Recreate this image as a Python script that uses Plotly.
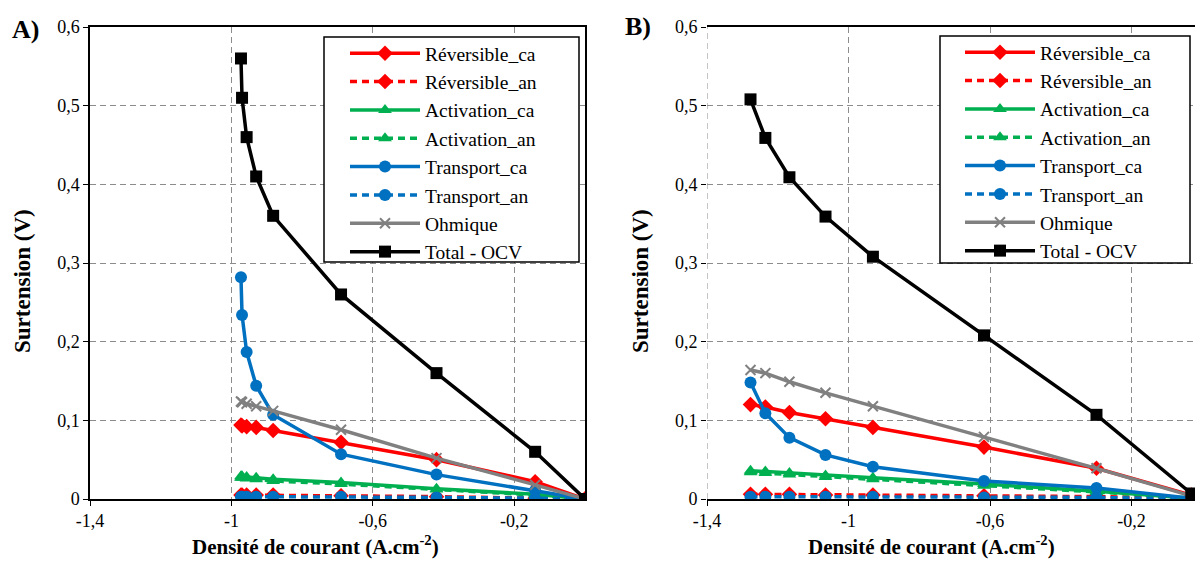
import plotly.graph_objects as go

# --- data (panel A and panel B) ---
names = ["Réversible_ca", "Réversible_an", "Activation_ca", "Activation_an",
         "Transport_ca", "Transport_an", "Ohmique", "Total - OCV"]

j_A = [-0.973, -0.970, -0.957, -0.930, -0.882, -0.690, -0.420, -0.141, 0.0]
rev_ca_A = [0.094, 0.093, 0.092, 0.091, 0.087, 0.072, 0.050, 0.022, 0.0]
rev_an_A = [0.005, 0.005, 0.005, 0.005, 0.005, 0.004, 0.003, 0.001, 0.0]
act_ca_A = [0.029, 0.029, 0.028, 0.027, 0.025, 0.021, 0.013, 0.006, 0.0]
act_an_A = [0.027, 0.027, 0.026, 0.025, 0.023, 0.019, 0.012, 0.005, 0.0]
tr_ca_A = [0.282, 0.234, 0.187, 0.144, 0.107, 0.057, 0.031, 0.011, 0.0]
tr_an_A = [0.003, 0.003, 0.003, 0.003, 0.003, 0.003, 0.002, 0.001, 0.0]
ohm_A = [0.124, 0.123, 0.121, 0.118, 0.112, 0.088, 0.052, 0.018, 0.0]
tot_A = [0.56, 0.51, 0.46, 0.41, 0.36, 0.26, 0.16, 0.06, 0.0]

j_B = [-1.277, -1.235, -1.167, -1.065, -0.931, -0.617, -0.299, -0.031]
rev_ca_B = [0.120, 0.117, 0.110, 0.102, 0.091, 0.066, 0.039, 0.005]
rev_an_B = [0.006, 0.006, 0.006, 0.005, 0.005, 0.004, 0.003, 0.001]
act_ca_B = [0.036, 0.035, 0.033, 0.030, 0.027, 0.019, 0.010, 0.001]
act_an_B = [0.034, 0.033, 0.031, 0.028, 0.025, 0.017, 0.009, 0.001]
tr_ca_B = [0.148, 0.109, 0.078, 0.056, 0.041, 0.023, 0.014, 0.001]
tr_an_B = [0.003, 0.003, 0.003, 0.003, 0.003, 0.002, 0.002, 0.000]
ohm_B = [0.164, 0.160, 0.149, 0.135, 0.118, 0.079, 0.039, 0.004]
tot_B = [0.508, 0.459, 0.409, 0.359, 0.308, 0.208, 0.107, 0.007]

x_tickvals = [-1.4, -1.0, -0.6, -0.2]
x_ticktext = ["-1,4", "-1", "-0,6", "-0,2"]
y_tickvals = [0, 0.1, 0.2, 0.3, 0.4, 0.5, 0.6]
y_ticktext = ["0", "0,1", "0,2", "0,3", "0,4", "0,5", "0,6"]

# style per series: colour, dash, marker, size
styles = [
    ("#FF0000", "solid", "diamond", 12),
    ("#FF0000", "dash", "diamond", 12),
    ("#00B050", "solid", "triangle-up", 12),
    ("#00B050", "dash", "triangle-up", 12),
    ("#0070C0", "solid", "circle", 12),
    ("#0070C0", "dash", "circle", 12),
    ("#808080", "solid", "x-thin", 10),
    ("#000000", "solid", "square", 12),
]

W, H = 1195, 561
SERIF = "Liberation Serif"

fig = go.Figure()


def add_panel(x, series, xa, ya, legend):
    for name, y, (col, dash, sym, size) in zip(names, series, styles):
        marker = dict(symbol=sym, size=size, color=col)
        if sym == "x-thin":
            marker["line"] = dict(color=col, width=2)
        fig.add_trace(go.Scatter(
            x=x, y=y, name=name, mode="lines+markers",
            line=dict(color=col, width=3.5, dash="7px,5px" if dash == "dash" else "solid"),
            marker=marker, xaxis=xa, yaxis=ya, legend=legend,
        ))


add_panel(j_A, [rev_ca_A, rev_an_A, act_ca_A, act_an_A, tr_ca_A, tr_an_A, ohm_A, tot_A],
          "x", "y", "legend")
add_panel(j_B, [rev_ca_B, rev_an_B, act_ca_B, act_an_B, tr_ca_B, tr_an_B, ohm_B, tot_B],
          "x2", "y2", "legend2")

grid = dict(showgrid=True, gridcolor="#8c8c8c", gridwidth=1, griddash="6px,4px")
tickfont = dict(family=SERIF, size=18, color="black")

ax_common = dict(zeroline=False, ticks="outside", ticklen=5, tickcolor="black",
                 tickfont=tickfont, automargin=False, **grid)

legend_common = dict(xanchor="left", yanchor="top", bgcolor="rgba(0,0,0,0)", borderwidth=0,
                     font=dict(family=SERIF, size=19.5, color="black"),
                     itemwidth=70, tracegroupgap=0)

fig.update_layout(
    width=W, height=H,
    margin=dict(l=0, r=0, t=0, b=0),
    font=dict(family=SERIF, color="black"),
    paper_bgcolor="white", plot_bgcolor="white",
    xaxis=dict(domain=[90 / W, 585 / W], range=[-1.4, 0], tickvals=x_tickvals,
               ticktext=x_ticktext, showline=True, linecolor="black", linewidth=1.5,
               mirror=True, anchor="y", **ax_common),
    yaxis=dict(domain=[1 - 499 / H, 1 - 27 / H], range=[0, 0.6], tickvals=y_tickvals,
               ticktext=y_ticktext, showline=True, linecolor="black", linewidth=1.5,
               mirror=True, anchor="x", **ax_common),
    xaxis2=dict(domain=[707 / W, 1.0], range=[-1.4, -0.0205], tickvals=x_tickvals,
                ticktext=x_ticktext, showline=True, linecolor="black", linewidth=1.5,
                mirror=True, anchor="y2", **ax_common),
    yaxis2=dict(domain=[1 - 499 / H, 1 - 27 / H], range=[0, 0.6], tickvals=y_tickvals,
                ticktext=y_ticktext, showline=False, anchor="x2", **ax_common),
    legend=dict(x=345 / W, y=1 - 34 / H, **legend_common),
    legend2=dict(x=960 / W, y=1 - 33 / H, **legend_common),
    showlegend=True,
    shapes=[
        # legend frames
        dict(type="rect", xref="paper", yref="paper", x0=324 / W, x1=579 / W,
             y0=1 - 262 / H, y1=1 - 37 / H, fillcolor="white",
             line=dict(color="black", width=1.5), layer="above"),
        dict(type="rect", xref="paper", yref="paper", x0=940 / W, x1=1190 / W,
             y0=1 - 263 / H, y1=1 - 36 / H, fillcolor="white",
             line=dict(color="black", width=1.5), layer="above"),
        # dashed left border of panel B
        dict(type="line", xref="x2", yref="paper", x0=-1.4, x1=-1.4,
             y0=1 - 499 / H, y1=1 - 27 / H, line=dict(color="#8c8c8c", width=1, dash="6px,4px"),
             layer="below"),
    ],
)

title_font = dict(family=SERIF, size=23, color="black")
annotations = [
    dict(text="<b>A)</b>", x=26 / W, y=1 - 30 / H, font=dict(family=SERIF, size=26, color="black")),
    dict(text="<b>B)</b>", x=638 / W, y=1 - 26 / H, font=dict(family=SERIF, size=26, color="black")),
    dict(text="<b>Surtension (V)</b>", x=22 / W, y=1 - 281 / H, textangle=-90, font=title_font),
    dict(text="<b>Surtension (V)</b>", x=640 / W, y=1 - 281 / H, textangle=-90, font=title_font),
    dict(text="<b>Densité de courant (A.cm<sup>-2</sup>)</b>", x=315 / W, y=1 - 545 / H,
         font=dict(family=SERIF, size=21, color="black")),
    dict(text="<b>Densité de courant (A.cm<sup>-2</sup>)</b>", x=932 / W, y=1 - 545 / H,
         font=dict(family=SERIF, size=21, color="black")),
]
for a in annotations:
    a.update(xref="paper", yref="paper", showarrow=False, xanchor="center", yanchor="middle")
fig.update_layout(annotations=annotations)

fig.write_html("out.html", config={"displayModeBar": False},
               post_script="document.body.style.margin='0';")
